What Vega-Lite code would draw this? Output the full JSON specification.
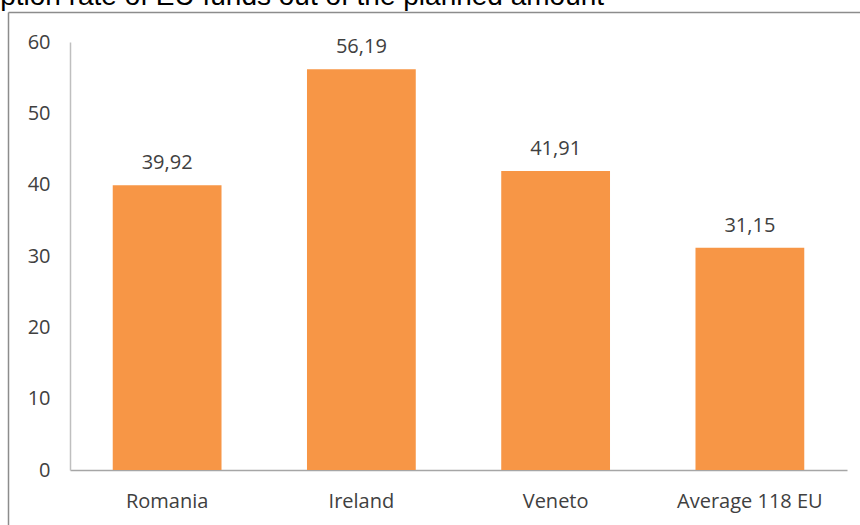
{
  "$schema": "https://vega.github.io/schema/vega-lite/v6.json",
  "autosize": "none",
  "padding": {"left": 8, "top": 12, "right": 0, "bottom": 0},
  "width": 852,
  "height": 513,
  "background": "white",
  "title": {
    "text": "Absorption rate of EU funds out of the planned amount",
    "anchor": "start",
    "frame": "group",
    "baseline": "bottom",
    "offset": 0,
    "dx": -81,
    "dy": 27,
    "font": "Liberation Sans",
    "fontSize": 28,
    "fontWeight": "normal",
    "color": "#000000"
  },
  "config": {
    "view": {"stroke": null},
    "font": "Open Sans"
  },
  "data": {
    "values": [
      {"region": "Romania", "rate": 39.92, "label": "39,92"},
      {"region": "Ireland", "rate": 56.19, "label": "56,19"},
      {"region": "Veneto", "rate": 41.91, "label": "41,91"},
      {"region": "Average 118 EU", "rate": 31.15, "label": "31,15"}
    ]
  },
  "layer": [
    {
      "encoding": {
        "x": {
          "field": "region",
          "type": "nominal",
          "sort": null,
          "scale": {"range": [62, 839], "paddingInner": 0.44, "paddingOuter": 0.22},
          "axis": {
            "title": null,
            "offset": -55,
            "labelAngle": 0,
            "ticks": false,
            "domainColor": "#A6A6A6",
            "domainWidth": 1.5,
            "labelFont": "Open Sans",
            "labelFontSize": 20,
            "labelColor": "#404040",
            "labelPadding": 21
          }
        },
        "y": {
          "field": "rate",
          "type": "quantitative",
          "scale": {"domain": [0, 60], "range": [458, 30], "nice": false},
          "axis": {
            "title": null,
            "offset": -62,
            "values": [0, 10, 20, 30, 40, 50, 60],
            "grid": false,
            "ticks": false,
            "domainColor": "#BFBFBF",
            "domainWidth": 1.5,
            "labelFont": "Open Sans",
            "labelFontSize": 20,
            "labelColor": "#404040",
            "labelPadding": 20
          }
        }
      },
      "layer": [
        {"mark": {"type": "bar", "color": "#F79646"}},
        {
          "mark": {"type": "text", "baseline": "middle", "dy": -22, "font": "Open Sans", "fontSize": 20, "color": "#404040"},
          "encoding": {"text": {"field": "label"}}
        }
      ]
    },
    {
      "mark": {"type": "point", "opacity": 0},
      "encoding": {
        "x": {
          "field": "rate",
          "type": "quantitative",
          "scale": {"domain": [0, 100], "nice": false, "zero": false},
          "axis": {"orient": "top", "title": null, "labels": false, "ticks": false, "grid": false, "domainColor": "#8C8C8C", "domainWidth": 1.5}
        },
        "y": {
          "field": "rate",
          "type": "quantitative",
          "scale": {"domain": [0, 100], "nice": false, "zero": false},
          "axis": {"orient": "left", "title": null, "labels": false, "ticks": false, "grid": false, "domainColor": "#8C8C8C", "domainWidth": 1.5}
        }
      }
    }
  ],
  "resolve": {
    "scale": {"x": "independent", "y": "independent"},
    "axis": {"x": "independent", "y": "independent"}
  }
}
